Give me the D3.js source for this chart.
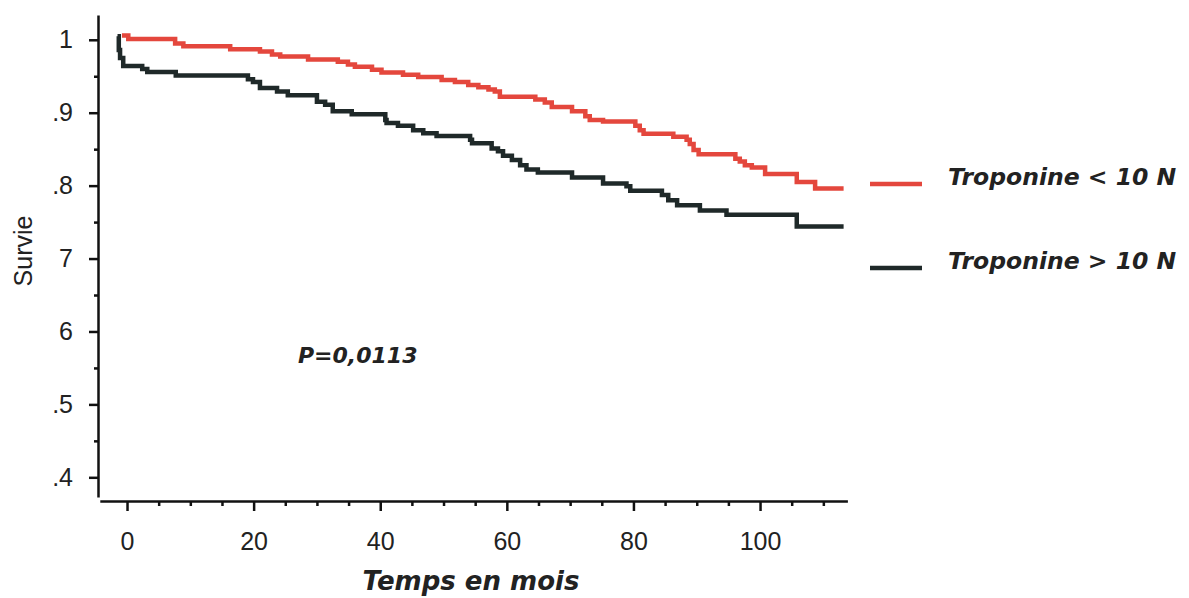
<!DOCTYPE html>
<html>
<head>
<meta charset="utf-8">
<script src="https://cdn.jsdelivr.net/npm/d3@7/dist/d3.min.js"></script>
<style>
	body { margin:0; background:#fff; }
	svg text { fill:#222; }
</style>
</head>
<body>
<svg id="chart" width="1189" height="598"></svg>
<script>
// survival curves (months, survival)
var tLow  = [-0.8,0.2,7.6,8.9,16.3,21.0,22.9,24.2,28.6,33.3,34.9,36.0,38.7,40.2,43.6,46.0,49.7,51.8,53.9,55.5,57.1,58.1,58.9,64.5,66.0,67.1,70.3,72.4,73.1,75.2,80.3,81.0,81.6,86.3,88.4,88.9,89.5,90.3,96.1,96.8,97.6,98.7,100.8,105.8,108.7,113.2]
var sLow  = [1.006,1.001,0.995,0.991,0.987,0.984,0.980,0.977,0.973,0.970,0.966,0.963,0.959,0.955,0.952,0.949,0.945,0.942,0.938,0.935,0.932,0.929,0.922,0.918,0.914,0.908,0.902,0.895,0.890,0.888,0.882,0.876,0.871,0.867,0.863,0.857,0.849,0.843,0.837,0.833,0.828,0.825,0.816,0.805,0.796,0.796]
var tHigh = [-1.5,-1.3,-1.1,-0.6,2.4,3.2,7.7,19.1,19.9,21.0,23.7,25.4,30.0,31.3,32.5,35.5,40.8,41.0,42.8,45.2,46.8,48.9,54.2,54.5,57.6,58.6,59.4,60.8,62.1,63.1,64.9,70.3,75.2,78.9,79.5,84.5,85.5,86.9,90.5,94.7,105.8,113.2]
var sHigh = [1.005,0.986,0.975,0.964,0.960,0.956,0.951,0.946,0.942,0.934,0.929,0.924,0.915,0.911,0.902,0.898,0.890,0.886,0.882,0.876,0.872,0.868,0.863,0.858,0.851,0.847,0.841,0.835,0.828,0.822,0.818,0.811,0.803,0.799,0.793,0.787,0.780,0.773,0.766,0.760,0.744,0.744]

var seriesNames  = ['Troponine < 10 N','Troponine > 10 N']
var xTicks       = [0,20,40,60,80,100]
var xMinorTicks  = [5,10,15,25,30,35,45,50,55,65,70,75,85,90,95,105,110]
var yTicks       = [1,0.9,0.8,0.7,0.6,0.5,0.4]
var yTickLabels  = ['1','.9','.8','7','6','.5','.4']
var yMinorTicks  = [0.95,0.85,0.75,0.65,0.55,0.45]
var xTitle = 'Temps en mois'
var yTitle = 'Survie'
var pText  = 'P=0,0113'

var svg = d3.select('#chart')
var chart = svg.append('g').attr('id','chart-body')

var x = d3.scaleLinear().domain([-4.3,113.8]).range([99.8,847.4])
var y = d3.scaleLinear().domain([0.373,1.034]).range([497,15])

var xAxisY = 501, yAxisX = 98

var xAxis = chart.append('g').attr('transform','translate(0,' + xAxisY + ')')
	.call(d3.axisBottom(x).tickValues(xTicks).tickSize(10).tickSizeOuter(0).tickPadding(21))
chart.append('g').attr('transform','translate(0,' + xAxisY + ')')
	.call(d3.axisBottom(x).tickValues(xMinorTicks).tickSize(5).tickSizeOuter(0).tickFormat(''))
	.select('.domain').remove()

var yAxis = chart.append('g').attr('transform','translate(' + yAxisX + ',0)')
	.call(d3.axisLeft(y).tickValues(yTicks).tickSize(9).tickSizeOuter(0).tickPadding(16)
		.tickFormat(function(d,i){ return yTickLabels[i] }))
chart.append('g').attr('transform','translate(' + yAxisX + ',0)')
	.call(d3.axisLeft(y).tickValues(yMinorTicks).tickSize(4).tickSizeOuter(0).tickFormat(''))
	.select('.domain').remove()

chart.selectAll('.domain').attr('stroke','#111').attr('stroke-width',2.5)
chart.selectAll('.tick line').attr('stroke','#111').attr('stroke-width',2.5)
chart.selectAll('.tick text')
	.attr('font-family','"Liberation Sans", Arial, sans-serif')
	.attr('font-size',25).attr('fill','#222')

var line = d3.line()
	.x(function(d){ return x(d[0]) })
	.y(function(d){ return y(d[1]) })
	.curve(d3.curveStepAfter)

var curves = [
	{ name:seriesNames[0], color:'#e4473d', data:d3.zip(tLow,sLow) },
	{ name:seriesNames[1], color:'#1f2929', data:d3.zip(tHigh,sHigh) }
]

var paths = chart.append('g').attr('id','curves')
curves.forEach(function(e,i){
	paths.append('path').datum(e.data)
		.attr('d',line)
		.attr('fill','none')
		.attr('stroke',e.color)
		.attr('stroke-width',4.5)
})

// legend
var legendY = [184,268]
var legend = svg.append('g').attr('id','legend')
curves.forEach(function(e,i){
	legend.append('line')
		.attr('x1',870).attr('x2',922)
		.attr('y1',legendY[i]).attr('y2',legendY[i])
		.attr('stroke',e.color).attr('stroke-width',4.5)
	legend.append('text').text(e.name)
		.attr('x',948).attr('y',legendY[i] + 1)
		.attr('font-family','"DejaVu Sans", sans-serif')
		.attr('font-weight','bold').attr('font-style','italic')
		.attr('font-size',23.5).attr('fill','#2a2a2a')
})

svg.append('text').text(xTitle)
	.attr('x',471).attr('y',590)
	.attr('text-anchor','middle')
	.attr('font-family','"DejaVu Sans", sans-serif')
	.attr('font-weight','bold').attr('font-style','italic')
	.attr('font-size',26).attr('fill','#2a2a2a')

svg.append('text').text(yTitle)
	.attr('transform','translate(32,251) rotate(-90)')
	.attr('text-anchor','middle')
	.attr('font-family','"Liberation Sans", Arial, sans-serif')
	.attr('font-size',25).attr('fill','#222')

svg.append('text').text(pText)
	.attr('x',298).attr('y',363)
	.attr('font-family','"DejaVu Sans", sans-serif')
	.attr('font-weight','bold').attr('font-style','italic')
	.attr('font-size',22).attr('fill','#2a2a2a')
</script>
</body>
</html>
